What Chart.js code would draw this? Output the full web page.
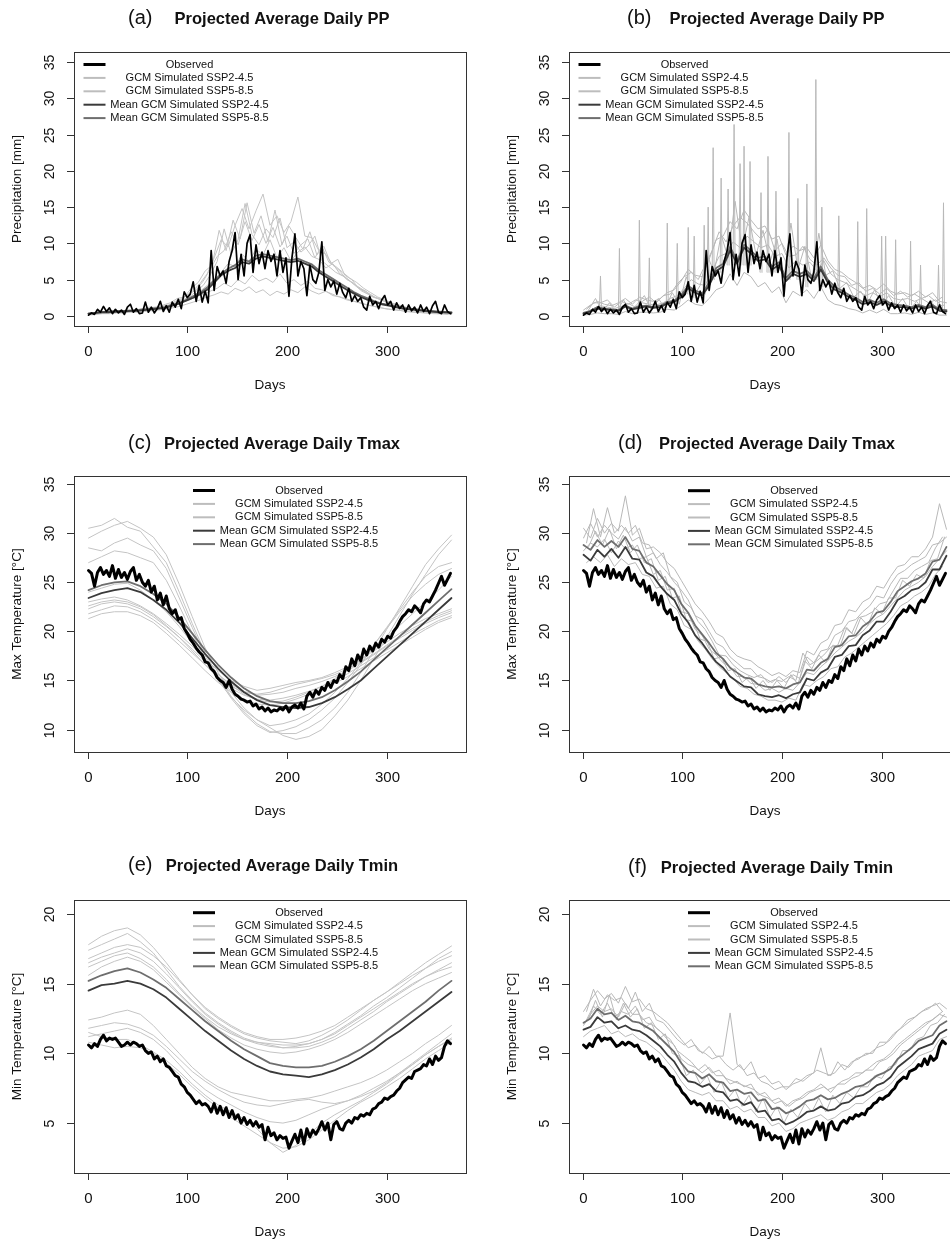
<!DOCTYPE html>
<html><head><meta charset="utf-8">
<script src="https://cdn.jsdelivr.net/npm/chart.js@4.4.1/dist/chart.umd.min.js"></script>
<style>
html,body{margin:0;padding:0;background:#fff;overflow:hidden;width:950px;height:1241px;}
#wrap{position:relative;width:950px;height:1241px;overflow:hidden;background:#fff;}
canvas{position:absolute;}
</style></head><body><div id="wrap">
<canvas id="pa" width="475" height="410" style="left:0;top:0;width:475px;height:410px"></canvas>
<canvas id="pb" width="475" height="410" style="left:495px;top:0;width:475px;height:410px"></canvas>
<canvas id="pc" width="475" height="420" style="left:0;top:410px;width:475px;height:420px"></canvas>
<canvas id="pd" width="475" height="420" style="left:495px;top:410px;width:475px;height:420px"></canvas>
<canvas id="pe" width="475" height="411" style="left:0;top:830px;width:475px;height:411px"></canvas>
<canvas id="pf" width="475" height="411" style="left:495px;top:830px;width:475px;height:411px"></canvas>
</div>
<script>
// ---------- tick labels / categories ----------
const xTicks = [0, 100, 200, 300];
const ppTicks = [0, 5, 10, 15, 20, 25, 30, 35];
const tmaxTicks = [10, 15, 20, 25, 30, 35];
const tminTicks = [5, 10, 15, 20];
const legendLabels = ['Observed', 'GCM Simulated SSP2-4.5', 'GCM Simulated SSP5-8.5', 'Mean GCM Simulated SSP2-4.5', 'Mean GCM Simulated SSP5-8.5'];
// day grids: [first day, step]
const OBS_GRID = [1, 3];   // observed series, days 1,4,...,364
const S13 = [1, 13];       // smooth GCM series, days 1,14,...,365
const GA = [1, 7];         // days 1,8,...,365
const GB = [4, 7];         // days 4,11,...,361
const GC = [6, 7];         // days 6,13,...,363

// ---------- observed ----------
const obsPP = [0.1,0.4,0.2,0.9,0.5,1.3,0.6,1.1,0.3,0.9, 0.4,0.8,0.2,1.2,1.6,0.5,1.0,0.3,0.4,1.9,
 0.5,1.2,0.4,1.0,2.0,0.6,1.4,0.5,1.9,1.2, 2.3,1.0,3.3,2.5,3.0,4.7,2.0,4.2,1.9,3.4,
 1.8,9.0,3.5,6.8,5.5,6.2,4.5,7.5,9.0,11.5, 5.0,8.5,5.5,10.0,11.2,6.0,9.8,7.2,8.8,6.5,
 9.0,7.5,8.5,5.5,9.0,6.0,8.0,2.7,8.0,11.3, 5.5,7.5,6.5,2.8,7.0,5.0,4.5,6.0,10.2,3.5,
 5.0,4.0,4.8,3.0,4.5,3.2,2.5,3.8,2.0,2.8, 2.0,2.5,1.2,0.8,2.7,1.5,2.0,1.0,2.2,2.8,
 1.5,2.0,0.8,1.8,1.0,1.5,0.5,1.5,0.7,1.2, 0.4,1.5,0.6,1.2,0.3,1.4,2.0,0.5,0.3,1.5, 0.6,0.3];
const obsTmax = [26.2,25.9,24.6,26.0,26.5,25.8,26.2,25.6,26.7,25.4, 26.3,25.5,26.0,25.3,26.1,26.5,25.2,25.8,25.0,24.6,
 25.2,24.0,24.6,23.2,23.9,22.7,23.6,22.3,21.8,22.2, 21.2,21.4,20.3,19.8,19.2,18.8,18.3,17.9,17.6,16.9,
 16.8,16.2,15.9,15.3,15.0,14.8,14.3,15.0,14.1,13.6, 13.4,13.1,13.0,12.8,12.9,12.4,12.6,12.1,12.3,11.9,
 12.2,11.8,12.0,11.9,12.2,12.0,12.4,11.8,12.3,12.5, 12.2,12.7,12.1,13.4,13.8,13.3,14.0,13.6,14.3,14.0,
 14.8,14.3,15.0,14.8,15.6,15.2,16.4,16.0,17.2,16.5, 17.6,17.0,18.2,17.6,18.5,18.0,18.8,18.4,19.2,18.9,
 19.5,19.3,20.0,20.4,21.0,21.5,21.8,22.2,22.0,22.6, 22.3,21.9,22.8,23.2,23.0,23.6,24.2,24.9,25.6,24.7, 25.3,25.9];
const obsTmin = [10.6,10.4,10.7,10.5,11.0,11.3,10.9,11.1,11.0,11.1, 10.8,10.5,10.6,10.8,10.6,10.8,10.7,10.5,10.6,10.2,
 10.0,10.1,9.6,9.8,9.4,9.6,9.1,9.0,8.7,8.4, 8.3,7.8,7.6,7.2,7.0,6.7,6.4,6.6,6.3,6.4,
 6.2,5.8,6.4,5.7,6.2,5.6,6.1,5.4,5.9,5.3, 5.6,5.0,5.4,4.9,5.2,4.8,5.1,4.7,4.9,3.8,
 4.7,4.1,4.3,3.8,4.1,3.9,4.0,3.2,3.7,4.2, 3.6,4.5,3.5,4.6,4.0,4.5,4.2,4.6,5.1,4.5,
 5.0,3.8,4.9,5.1,4.6,4.5,5.0,5.2,5.0,5.4, 5.3,5.6,5.5,5.7,5.6,6.0,6.1,6.4,6.5,6.8,
 6.7,6.9,7.0,7.3,7.5,7.9,8.1,8.3,8.2,8.7, 8.8,8.9,9.2,9.1,9.6,9.2,9.8,9.5,9.7,10.5, 10.9,10.7];

// ---------- (a) raw GCM precipitation ----------
const ppA_mean245 = [0.3,0.4,0.5,0.5,0.6,0.6,0.7,0.7,0.8,0.9, 1.0,1.1,1.4,1.7,2.1,2.5,3.0,3.6,4.6,5.6,
 6.2,6.6,7.4,7.2,7.9,8.2,8.0,7.8,7.6,7.4, 7.6,7.2,6.8,6.0,5.4,4.8,4.2,3.6,3.1,2.6, 2.2,1.9,1.6,1.4,1.2,1.0,0.9,0.8,0.7,0.6, 0.5,0.5,0.4];
const ppA_mean585 = [0.3,0.4,0.5,0.6,0.6,0.7,0.7,0.8,0.9,1.0, 1.1,1.2,1.5,1.8,2.2,2.7,3.2,3.9,4.9,5.8,
 6.5,7.0,7.8,7.5,8.3,8.5,8.3,8.1,7.9,7.7, 7.9,7.5,7.1,6.3,5.7,5.1,4.5,3.9,3.3,2.8, 2.4,2.0,1.7,1.5,1.3,1.1,1.0,0.9,0.8,0.7, 0.6,0.5,0.5];
const ppA_gcm1 = [0.3,0.5,0.6,0.5,0.7,0.6,0.8,0.7,0.9,1.0, 1.1,1.2,1.6,2.0,2.8,3.5,4.5,5.8,8.0,10.5,
 9.5,12.5,14.8,12.0,14.5,16.8,12.5,13.8,11.5,13.0, 16.4,11.0,10.8,9.0,8.5,7.0,6.2,5.0,4.5,3.5, 3.0,2.5,2.2,1.8,1.5,1.2,1.0,0.9,0.7,0.6, 0.5,0.4,0.3];
const ppA_gcm2 = [0.4,0.5,0.6,0.7,0.6,0.8,0.7,0.9,1.0,1.1, 1.2,1.4,1.8,2.2,2.6,3.4,4.2,5.6,7.5,12.0,
 8.5,10.5,15.5,11.2,9.8,12.0,10.8,13.5,9.4,10.2, 8.8,9.6,11.0,7.6,6.8,6.0,5.5,4.8,4.0,3.4, 2.8,2.4,2.0,1.6,1.4,1.1,0.9,0.8,0.6,0.5, 0.5,0.4];
const ppA_gcm3 = [0.2,0.4,0.5,0.4,0.6,0.5,0.7,0.6,0.8,0.9, 1.0,1.1,1.4,1.8,2.2,2.8,3.4,4.2,5.0,6.0,
 7.2,6.8,8.5,7.5,9.2,8.4,10.5,8.0,9.4,7.6, 8.8,9.5,8.2,7.8,6.6,7.2,5.8,5.2,4.4,3.8, 3.2,2.6,2.2,1.8,1.5,1.2,1.0,0.8,0.7,0.6, 0.5,0.4,0.3];
const ppA_gcm4 = [0.2,0.3,0.4,0.4,0.5,0.5,0.6,0.7,0.8,0.9, 1.0,1.2,1.5,1.9,2.2,2.6,3.0,3.4,3.8,4.5,
 4.0,5.0,4.4,5.6,4.8,5.2,4.6,5.8,4.5,5.0, 4.2,4.8,3.8,3.6,3.2,2.8,2.5,2.2,1.9,1.6, 1.4,1.2,1.0,0.9,0.8,0.6,0.5,0.5,0.4,0.3, 0.3,0.2];
const ppA_gcm5 = [0.1,0.2,0.3,0.3,0.4,0.4,0.5,0.5,0.6,0.7, 0.8,0.9,1.1,1.3,1.6,1.9,2.2,2.6,2.9,3.3,
 3.0,3.8,3.4,4.0,3.2,3.6,2.8,3.4,3.0,3.6, 3.2,4.0,3.4,3.0,3.4,2.8,2.6,2.2,2.0,1.8, 1.5,1.3,1.1,0.9,0.8,0.7,0.6,0.5,0.4,0.4, 0.3,0.3,0.2];
const ppA_gcm6 = [0.3,0.4,0.5,0.6,0.7,0.6,0.8,0.9,1.0,1.2, 1.3,1.5,2.0,2.4,3.0,3.6,4.8,6.4,8.2,9.0,
 11.6,9.8,13.0,10.4,12.6,10.0,12.2,9.5,11.0,8.6, 9.8,10.6,8.0,9.6,7.4,6.8,6.0,5.2,4.6,3.8, 3.2,2.6,2.2,1.8,1.5,1.2,1.0,0.8,0.7,0.6, 0.5,0.4];
const ppA_gcm7 = [0.4,0.6,0.5,0.8,0.6,0.9,0.8,1.0,1.2,1.1, 1.5,1.8,2.4,2.6,3.8,4.6,6.2,7.0,11.8,9.0,
 13.2,10.6,15.6,11.4,13.8,10.2,14.6,9.8,12.4,10.8, 9.2,11.6,8.4,9.6,7.2,7.8,5.6,5.0,3.8,3.4, 2.6,2.4,1.8,1.6,1.3,1.1,0.9,0.8,0.6,0.5, 0.5,0.4];

// ---------- (b) bias-corrected precipitation ----------
const ppB_mean245 = [0.3,0.6,1.0,0.9,0.8,0.7,1.3,0.9,1.1,1.3, 1.1,1.2,1.7,1.9,2.6,3.8,3.2,2.8,4.2,6.2,
 6.8,9.0,7.2,9.4,8.6,7.6,7.8,6.4,7.0,4.8, 5.8,5.4,5.8,4.8,6.4,4.6,3.6,3.2,2.6,2.2, 1.6,1.9,1.5,2.0,1.4,1.2,1.2,1.0,1.3,1.0, 1.3,0.7,0.6];
const ppB_mean585 = [0.4,0.7,1.2,1.0,0.9,0.8,1.4,1.0,1.3,1.4, 1.2,1.4,1.9,2.1,2.9,4.1,3.5,3.1,4.6,6.6,
 7.2,9.5,7.6,9.8,9.0,8.0,8.2,6.8,7.4,5.2, 6.2,5.8,6.2,5.2,6.8,5.0,4.0,3.5,2.9,2.5, 1.9,2.2,1.8,2.3,1.7,1.5,1.4,1.2,1.5,1.2, 1.5,0.9,0.8];
const ppB_gcm1 = [0.8,1.5,2.0,1.6,1.4,1.8,2.4,1.6,2.6,2.2, 2.0,2.4,3.2,3.6,4.8,6.4,5.6,5.4,7.8,10.5,
 11.0,13.0,12.0,14.6,13.2,12.0,12.4,10.6,11.0,8.4, 9.6,9.0,9.4,8.0,9.8,7.6,6.4,6.0,5.2,4.6, 3.8,4.2,3.6,4.4,3.4,3.0,3.2,2.8,3.4,2.6, 3.2,2.0,1.8];
const ppB_gcm2 = [0.5,1.0,1.4,1.2,1.0,1.3,1.7,1.2,1.8,1.6, 1.5,1.8,2.4,2.8,3.8,5.0,4.4,4.2,6.2,8.2,
 8.6,10.2,9.4,11.0,10.2,9.4,9.8,8.2,8.6,6.6, 7.6,7.0,7.4,6.2,7.6,5.8,5.0,4.6,4.0,3.4, 2.8,3.2,2.6,3.2,2.4,2.2,2.4,2.0,2.4,1.8, 2.2,1.3];
const ppB_gcm3 = [0.1,0.2,0.4,0.3,0.3,0.2,0.6,0.3,0.5,0.5, 0.4,0.5,0.9,0.8,1.4,2.2,1.6,1.4,2.4,3.6,
 4.0,5.8,4.2,6.0,5.4,4.0,4.6,3.2,4.0,1.8, 3.4,2.8,3.6,2.4,4.0,2.2,1.6,1.4,1.0,0.8, 0.4,0.8,0.4,0.9,0.3,0.3,0.4,0.2,0.5,0.2, 0.4,0.1,0.1];
const ppB_gcm4 = [0.9,1.8,1.8,2.2,1.2,2.0,1.6,2.2,2.0,2.6, 1.8,2.8,3.0,4.4,5.4,6.0,5.0,7.0,9.0,11.6,
 10.2,12.4,13.6,12.8,11.6,10.6,12.0,9.0,10.0,8.2, 8.4,9.6,7.8,7.0,8.0,6.6,5.6,5.4,4.2,4.6, 3.4,3.8,3.0,3.8,2.8,3.4,2.6,3.0,2.4,2.8, 2.0,2.6];
const ppB_gcm5 = [0.8,2.4,0.6,1.8,0.5,2.2,0.7,1.6,2.8,0.8, 2.4,1.0,3.2,1.6,5.4,2.6,4.2,8.4,6.0,11.2,
 8.0,15.8,9.2,13.6,8.4,11.8,7.4,10.6,5.2,12.8, 6.4,9.6,5.0,11.4,5.6,6.2,3.8,4.6,2.6,3.4, 1.8,3.6,1.4,2.8,1.2,2.4,0.8,2.0,0.7,2.2, 0.6,1.6];
const ppB_spikeDays = [18,37,57,67,85,95,106,112,122,126,131,139,146,152,158,162,168,179,186,194,207,216,225,234,240,257,276,285,300,304,314,329,339,357,362];
const ppB_spikePeak = [5.5,9.3,13.2,8.0,12.8,10.0,12.2,11.0,12.5,15.0,23.2,19.0,17.5,26.4,21.0,23.4,21.3,17.0,22.0,17.2,25.3,16.2,18.2,32.6,15.0,13.8,13.0,14.8,11.0,11.0,10.5,10.3,7.0,7.0,15.6];
const ppB_spikeBase = [1.2,0.8,1.0,1.0,1.5,2.0,3.0,2.5,3.0,4.0,5.0,6.0,7.0,7.0,7.0,7.0,7.0,6.0,6.0,6.0,5.0,5.0,4.0,5.0,4.0,3.0,2.0,2.0,2.0,2.0,1.5,1.5,1.2,1.0,1.0];

// ---------- (c) raw GCM Tmax (days 1,14,...,365) ----------
const tmaxC_mean245 = [23.4,23.9,24.2,24.4,24.0,23.2,22.2,20.9,19.3,17.7,16.2,14.9,13.8,13.0,12.5,12.3,12.2,12.3,12.7,13.3,14.1,15.0,16.2,17.4,18.6,19.8,21.0,22.2,23.4];
const tmaxC_mean585 = [24.2,24.7,25.0,25.1,24.6,23.8,22.8,21.4,19.8,18.1,16.6,15.3,14.2,13.4,12.9,12.7,12.7,12.9,13.3,14.0,14.9,15.9,17.1,18.3,19.5,20.7,21.9,23.1,24.3];
const tmaxC_gcm1 = [30.5,30.8,31.5,30.6,30.2,28.6,27.0,24.0,20.8,17.8,15.4,13.4,11.8,10.6,9.8,9.6,9.6,10.2,11.0,12.2,13.8,15.8,18.0,20.2,22.4,24.6,26.8,28.4,29.8];
const tmaxC_gcm2 = [29.5,30.2,30.8,31.2,30.5,29.6,27.8,24.8,21.5,18.3,15.8,13.8,12.2,11.0,10.2,9.4,9.0,9.3,10.0,11.4,13.0,15.0,17.2,19.4,21.6,23.8,25.8,27.8,29.3];
const tmaxC_gcm3 = [28.5,28.2,29.0,29.5,28.8,28.2,26.4,23.4,20.4,17.5,15.2,13.2,11.6,10.4,9.7,9.9,10.3,11.0,12.0,13.2,14.8,16.6,18.6,20.4,22.2,24.0,25.6,26.6,27.0];
const tmaxC_gcm4 = [27.0,27.6,28.2,28.0,27.5,27.0,25.2,22.6,19.8,17.2,15.0,13.3,12.0,11.0,10.4,10.6,11.0,11.6,12.6,13.8,15.2,16.8,18.6,20.3,22.0,23.6,24.8,25.8,26.4];
const tmaxC_gcm5 = [23.0,23.3,23.5,23.2,22.6,21.8,20.8,19.7,18.5,17.2,16.0,15.0,14.4,14.0,14.2,14.5,14.8,15.0,15.3,15.8,16.4,17.2,18.0,18.9,19.8,20.6,21.3,21.8,22.3];
const tmaxC_gcm6 = [22.3,22.8,23.0,22.8,22.3,21.5,20.5,19.4,18.2,16.9,15.6,14.6,13.9,13.5,13.6,13.8,14.2,14.5,14.9,15.4,16.0,16.8,17.6,18.5,19.3,20.1,20.8,21.4,21.9];
const tmaxC_gcm7 = [21.8,22.2,22.6,22.5,22.0,21.2,20.2,19.0,17.8,16.6,15.3,14.2,13.5,13.1,13.0,13.2,13.5,13.9,14.4,15.0,15.7,16.5,17.3,18.1,18.9,19.7,20.4,21.1,21.6];
const tmaxC_gcm8 = [21.3,21.8,22.0,22.0,21.6,20.9,19.8,18.6,17.3,16.0,14.8,13.8,13.1,12.6,12.5,12.7,13.1,13.6,14.1,14.7,15.4,16.2,17.0,17.8,18.6,19.4,20.2,20.9,21.4];
const tmaxC_gcm9 = [22.6,23.0,23.2,23.0,22.5,21.7,20.6,19.4,18.0,16.6,15.4,14.4,13.8,13.6,13.8,14.2,14.6,14.9,15.2,15.6,16.2,16.9,17.7,18.6,19.5,20.3,21.0,21.6,22.1];
const tmaxC_gcm10 = [24.0,24.4,24.8,24.9,24.2,23.2,22.0,20.5,18.8,17.0,15.6,14.5,13.6,13.0,12.8,12.9,13.3,13.8,14.4,15.2,16.1,17.1,18.2,19.4,20.6,21.8,23.0,24.2,25.6];

// ---------- (d) bias-corrected Tmax ----------
const tmaxD_mean245 = [27.8,27.2,28.3,27.6,28.4,27.5,28.6,27.4,27.3,26.0, 25.6,24.6,23.8,23.2,21.8,20.9,19.6,18.8,17.8,16.9,
 16.3,15.4,14.9,14.4,14.3,13.6,13.4,13.3,13.5,13.2, 13.6,13.8,15.2,15.0,15.8,16.2,17.4,17.6,18.5,18.6, 19.6,20.1,21.0,21.0,22.0,23.2,23.6,24.2,24.4,25.0, 26.3,26.3,27.7];
const tmaxD_mean585 = [28.8,28.3,29.3,28.6,29.2,28.6,29.6,28.4,28.2,27.0, 26.6,25.7,24.8,24.2,22.8,21.9,20.6,19.7,18.8,17.8,
 17.2,16.3,15.8,15.3,15.2,14.6,14.4,14.3,14.4,14.2, 14.6,14.8,16.1,16.0,16.8,17.2,18.4,18.6,19.5,19.6, 20.5,21.0,21.9,22.1,23.0,24.1,24.6,25.1,25.4,25.9, 27.1,27.3,28.6];
const tmaxD_gcm1 = [30.5,29.5,31.5,30.0,31.0,30.2,33.8,29.8,30.5,28.4, 28.6,28.0,27.0,26.4,25.2,24.0,22.8,22.0,21.0,19.8,
 19.4,18.2,17.5,17.2,17.0,16.4,16.0,15.5,15.8,15.4, 16.0,15.8,18.0,17.6,18.8,19.2,20.6,20.8,22.2,22.0, 23.0,23.4,24.6,24.4,25.6,26.6,26.8,27.6,27.6,28.4, 29.6,33.0,30.4];
const tmaxD_gcm2 = [29.0,32.5,29.6,32.6,30.0,30.8,30.0,30.8,29.0,28.8, 27.4,28.0,25.6,25.0,23.0,22.4,21.0,20.2,19.0,17.6,
 17.5,16.6,16.0,15.6,15.3,15.6,14.8,15.1,14.9,15.4, 15.0,17.8,16.6,17.0,17.6,18.4,18.6,20.4,19.8,21.4, 21.6,22.0,22.8,23.0,24.2,25.4,25.4,26.2,26.6,27.0, 28.5,29.6];
const tmaxD_gcm3 = [28.2,29.0,28.6,29.4,28.0,29.2,28.4,28.8,27.4,27.6, 25.8,26.2,24.2,24.4,22.0,21.8,20.2,19.6,18.2,17.6,
 16.8,16.4,15.4,15.4,14.7,14.6,14.0,14.2,13.8,14.2, 14.0,14.8,15.8,15.6,16.4,17.0,17.8,18.4,19.0,19.4, 20.0,20.8,21.4,21.8,22.6,23.4,24.2,24.6,25.0,25.6, 26.6,27.4,28.2];
const tmaxD_gcm4 = [27.0,27.6,27.0,27.8,26.6,27.4,26.8,27.0,25.8,25.6, 24.4,24.6,22.8,22.2,20.6,20.2,19.0,18.2,17.2,16.4,
 15.8,15.2,14.4,14.2,13.6,13.4,13.0,13.0,12.8,13.2, 13.0,14.6,14.4,15.0,15.4,16.2,16.4,17.4,17.8,18.4, 19.0,19.6,20.2,20.8,21.6,22.6,23.0,23.6,24.0,24.6, 25.8,26.6];
const tmaxD_gcm5 = [29.5,31.0,29.6,30.8,30.0,29.4,30.6,29.2,29.6,27.6, 28.0,26.8,26.0,25.0,24.2,23.2,21.6,21.2,20.0,18.8,
 18.4,17.4,16.8,16.2,16.2,15.4,15.2,14.8,15.4,14.8, 15.6,15.2,17.4,16.8,18.0,18.2,19.6,20.0,21.0,21.2, 22.0,22.6,23.6,23.4,24.8,25.8,26.2,26.8,27.2,27.6, 28.8,29.0,29.6];
const tmaxD_gcm6 = [28.6,30.2,28.8,30.4,28.4,29.8,28.0,28.8,27.0,27.4, 25.2,25.6,23.4,23.6,21.2,21.0,19.2,19.0,17.2,17.4,
 16.0,16.2,14.8,15.4,14.2,15.0,14.0,15.0,14.2,15.6, 14.6,17.0,16.2,17.6,16.8,18.6,18.4,20.4,19.6,21.4, 20.6,22.4,21.8,23.4,23.4,25.2,24.6,25.8,25.4,27.2, 27.4,29.6];

// ---------- (e) raw GCM Tmin (days 1,14,...,365) ----------
const tminE_mean245 = [14.5,14.9,15.0,15.2,15.0,14.6,14.0,13.2,12.4,11.6,10.9,10.2,9.6,9.1,8.7,8.5,8.4,8.3,8.5,8.8,9.2,9.7,10.3,11.0,11.6,12.3,13.0,13.7,14.4];
const tminE_mean585 = [15.2,15.6,15.9,16.1,15.8,15.3,14.7,13.9,13.1,12.3,11.6,10.9,10.3,9.8,9.3,9.1,9.0,9.0,9.1,9.4,9.8,10.3,10.9,11.6,12.3,13.0,13.7,14.5,15.2];
const tminE_gcm1 = [17.8,18.4,18.8,19.0,18.5,17.6,16.5,15.3,14.2,13.2,12.5,11.9,11.4,11.1,10.9,10.8,10.7,10.9,11.3,11.8,12.4,13.1,13.8,14.4,15.1,15.8,16.5,17.1,17.7];
const tminE_gcm2 = [17.4,17.8,18.2,18.6,18.0,17.2,16.0,14.8,13.8,12.9,12.2,11.6,11.1,10.8,10.6,10.4,10.5,10.7,11.0,11.5,12.1,12.7,13.4,14.0,14.7,15.4,16.1,16.8,17.3];
const tminE_gcm3 = [16.5,16.9,17.2,17.5,17.2,16.6,15.7,14.7,13.7,12.8,12.1,11.5,11.0,10.7,10.5,10.4,10.4,10.5,10.8,11.2,11.8,12.4,13.0,13.7,14.3,14.9,15.5,16.0,16.5];
const tminE_gcm4 = [16.2,16.6,17.0,17.2,16.8,16.2,15.3,14.3,13.4,12.6,11.9,11.4,11.0,10.8,10.7,10.6,10.6,10.7,11.0,11.4,12.0,12.6,13.2,13.8,14.4,15.0,15.5,15.9,16.2];
const tminE_gcm5 = [15.6,16.2,16.6,16.9,16.6,16.0,15.1,14.2,13.3,12.5,11.7,11.1,10.6,10.3,10.1,10.0,10.1,10.3,10.6,11.0,11.5,12.1,12.7,13.3,13.9,14.5,15.0,15.4,15.8];
const tminE_gcm6 = [16.8,17.2,17.6,17.8,17.6,17.0,16.2,15.2,14.2,13.3,12.6,12.0,11.5,11.2,11.0,11.0,11.1,11.3,11.6,12.0,12.6,13.2,13.8,14.4,15.0,15.6,16.1,16.6,17.0];
const tminE_gcm7 = [12.4,12.6,12.9,13.1,12.8,12.0,11.0,10.0,9.0,8.2,7.6,7.2,7.0,6.8,6.6,6.6,6.7,6.8,7.0,7.3,7.6,7.9,8.3,8.8,9.4,10.0,10.7,11.3,12.0];
const tminE_gcm8 = [11.8,12.0,12.2,12.1,11.8,11.3,10.5,9.6,8.7,8.0,7.4,6.9,6.5,6.3,6.2,6.4,6.6,6.7,6.5,6.4,6.6,6.9,7.3,7.9,8.6,9.3,10.0,10.7,11.4];
const tminE_gcm9 = [11.2,11.4,11.6,11.8,11.5,11.0,10.2,9.2,8.2,7.4,6.8,6.3,5.8,5.4,5.1,5.0,5.2,5.6,6.0,6.3,6.6,7.0,7.5,8.0,8.6,9.2,9.9,10.5,11.1];
const tminE_gcm10 = [10.8,10.6,10.4,10.5,10.4,10.0,9.3,8.5,7.6,6.8,6.1,5.4,4.8,4.2,3.6,3.2,3.3,3.8,4.5,5.2,5.9,6.5,7.0,7.6,8.2,8.9,9.6,10.2,10.8];
const tminE_gcm11 = [11.5,11.2,11.0,11.0,10.6,10.1,9.5,8.7,7.8,7.0,6.3,5.8,5.3,4.6,3.6,2.9,3.4,4.2,5.0,5.6,6.1,6.6,7.2,7.8,8.5,9.2,9.9,10.5,11.0];

// ---------- (f) bias-corrected Tmin ----------
const tminF_mean245 = [11.7,11.9,12.6,12.2,12.3,11.8,12.0,11.7,11.6,11.3, 10.9,10.5,9.9,9.4,8.6,8.0,7.9,7.6,7.8,7.3,
 7.2,6.6,6.7,6.3,6.5,5.8,5.9,5.2,5.3,4.9, 5.1,5.4,5.8,5.9,6.2,5.9,6.0,6.4,6.5,6.9, 7.0,7.3,7.7,7.9,8.3,9.0,9.4,9.8,10.3,10.5, 10.7,11.4,11.7];
const tminF_mean585 = [12.2,12.5,13.2,12.8,12.9,12.4,12.7,12.3,12.2,11.9, 11.6,11.1,10.6,10.1,9.3,8.7,8.6,8.2,8.5,8.0,
 7.9,7.3,7.4,7.1,7.2,6.6,6.7,6.0,6.1,5.7, 5.9,6.2,6.6,6.7,7.0,6.7,6.8,7.1,7.3,7.6, 7.7,8.0,8.4,8.6,8.9,9.6,10.0,10.4,10.9,11.1, 11.3,12.0,12.3];
const tminF_gcm1 = [13.0,13.8,14.5,13.9,14.3,13.6,14.8,13.7,13.9,13.2, 13.0,12.6,12.2,11.6,11.0,10.4,10.6,10.0,10.5,9.8,
 9.8,12.9,9.2,8.8,9.4,8.2,8.4,7.8,8.0,7.4, 7.8,8.0,8.4,8.6,10.4,8.4,8.6,9.2,9.0,9.6, 9.8,10.0,10.4,10.6,11.0,11.6,12.0,12.4,12.8,13.2, 13.4,13.6,13.2];
const tminF_gcm2 = [12.4,13.4,12.8,13.6,12.6,13.0,12.8,13.4,12.4,12.6, 11.8,11.4,11.0,10.2,9.8,9.4,8.8,9.2,8.6,8.8,
 8.2,8.0,7.8,7.6,7.4,7.0,6.8,6.4,6.6,6.2, 6.6,6.8,7.2,7.4,7.6,7.2,7.8,7.8,8.2,8.4, 8.8,8.8,9.4,9.6,10.0,10.6,11.0,11.4,11.8,12.2, 12.6,13.0];
const tminF_gcm3 = [11.2,11.6,11.8,12.0,11.4,11.6,11.2,11.4,11.0,10.8, 10.4,10.0,9.4,8.8,8.0,7.4,7.2,7.0,7.2,6.6,
 6.6,6.0,6.2,5.8,6.0,5.4,5.4,4.8,5.0,4.4, 4.6,5.0,5.2,5.4,5.6,5.2,5.4,5.8,6.0,6.4, 6.4,6.8,7.2,7.4,7.8,8.4,8.8,9.2,9.8,10.0, 10.2,11.0,11.2];
const tminF_gcm4 = [13.0,14.6,13.4,14.2,13.8,14.0,13.2,14.4,13.0,13.6, 12.4,12.2,11.6,11.0,10.6,11.0,10.2,10.0,9.6,9.8,
 9.2,8.8,9.2,8.4,8.6,8.0,7.8,7.4,7.6,7.6, 8.2,8.0,8.4,8.8,8.6,8.4,9.4,8.8,9.4,9.6, 10.0,10.0,10.8,10.8,11.4,11.8,12.4,12.6,13.0,13.2, 13.6,13.0];
const tminF_gcm5 = [12.0,12.8,13.4,13.0,13.2,12.6,13.6,12.8,12.8,12.2, 12.0,11.6,11.0,10.6,9.6,9.2,9.0,8.6,9.0,8.4,
 8.4,7.8,8.0,7.6,7.8,7.0,7.2,6.6,6.8,6.2, 6.6,6.8,7.2,7.4,7.8,7.4,7.6,8.0,8.2,8.6, 8.6,9.0,9.4,9.6,10.0,10.6,11.0,11.4,11.8,12.2, 12.4,12.8,12.6];
const tminF_gcm6 = [12.4,13.8,12.6,14.2,12.4,13.6,12.6,13.2,11.8,12.2, 11.0,11.4,10.0,9.8,8.4,8.8,7.8,8.4,7.2,8.0,
 6.8,7.4,6.2,7.0,5.8,6.8,5.4,6.2,5.0,6.0, 5.4,6.4,5.8,6.8,5.8,7.0,6.4,7.2,6.8,7.6, 7.6,8.4,8.2,9.0,9.2,10.2,10.2,11.0,11.2,12.0, 12.2,12.8];

// ---------- helpers ----------
function pts(grid, vals) { return vals.map((v, i) => ({ x: grid[0] + grid[1] * i, y: v })); }
function spikePts(days, peaks, bases) {
  const out = [];
  days.forEach((d, i) => { out.push({ x: d - 1, y: bases[i] }, { x: d, y: peaks[i] }, { x: d + 1, y: bases[i] }, { x: d + 1, y: null }); });
  return out;
}
const C_OBS = '#000000', C_GCM = '#c4c4c4', C_GCMB = '#b8b8b8', C_M245 = '#3a3a3a', C_M585 = '#6e6e6e';
function line(data, color, w) {
  return { data: data, borderColor: color, borderWidth: w, pointRadius: 0, tension: 0, fill: false, borderJoinStyle: 'round', borderCapStyle: 'round' };
}
function buildSets(obs, obsW, means, meanGrid, gcms, gcmColor, extra) {
  const sets = [line(pts(OBS_GRID, obs), C_OBS, obsW),
    line(pts(meanGrid, means[0]), C_M245, 1.8),
    line(pts(meanGrid, means[1]), C_M585, 1.8)];
  gcms.forEach(g => sets.push(line(pts(g[0], g[1]), gcmColor, 1)));
  if (extra) sets.push(line(extra, gcmColor, 1));
  return sets;
}

const FONT = '"Liberation Sans", Arial, Helvetica, sans-serif';
const legendStyle = [[C_OBS, 3], ['#bdbdbd', 2], ['#bdbdbd', 2], [C_M245, 2], [C_M585, 2]];

const PANELS = [
  { id: 'pa', H: 410, tag: '(a)', tagDx: 54, title: 'Projected Average Daily PP', yTitle: 'Precipitation [mm]',
    yMin: -1.4, yMax: 36.4, yTicks: ppTicks, t: 52, b: 326, titleY: 24, legX: 9.5, legY: 64.5,
    sets: buildSets(obsPP, 1.7, [ppA_mean245, ppA_mean585], GA,
      [[GA, ppA_gcm1], [GB, ppA_gcm2], [GA, ppA_gcm3], [GB, ppA_gcm4], [GA, ppA_gcm5], [GB, ppA_gcm6], [GC, ppA_gcm7]], C_GCM) },
  { id: 'pb', H: 410, tag: '(b)', tagDx: 58, title: 'Projected Average Daily PP', yTitle: 'Precipitation [mm]',
    yMin: -1.4, yMax: 36.4, yTicks: ppTicks, t: 52, b: 326, titleY: 24, legX: 9.5, legY: 64.5,
    sets: buildSets(obsPP, 1.7, [ppB_mean245, ppB_mean585], GA,
      [[GA, ppB_gcm1], [GB, ppB_gcm2], [GA, ppB_gcm3], [GB, ppB_gcm4], [GC, ppB_gcm5]], C_GCMB,
      spikePts(ppB_spikeDays, ppB_spikePeak, ppB_spikeBase)) },
  { id: 'pc', H: 420, tag: '(c)', tagDx: 54, title: 'Projected Average Daily Tmax', yTitle: 'Max Temperature [°C]',
    yMin: 7.72, yMax: 35.82, yTicks: tmaxTicks, t: 66, b: 342, titleY: 38.5, legX: 119, legY: 80.5,
    sets: buildSets(obsTmax, 3, [tmaxC_mean245, tmaxC_mean585], S13,
      [tmaxC_gcm1, tmaxC_gcm2, tmaxC_gcm3, tmaxC_gcm4, tmaxC_gcm5, tmaxC_gcm6, tmaxC_gcm7, tmaxC_gcm8, tmaxC_gcm9, tmaxC_gcm10].map(v => [S13, v]), C_GCM) },
  { id: 'pd', H: 420, tag: '(d)', tagDx: 49, title: 'Projected Average Daily Tmax', yTitle: 'Max Temperature [°C]',
    yMin: 7.72, yMax: 35.82, yTicks: tmaxTicks, t: 66, b: 342, titleY: 38.5, legX: 119, legY: 80.7,
    sets: buildSets(obsTmax, 3, [tmaxD_mean245, tmaxD_mean585], GA,
      [[GA, tmaxD_gcm1], [GB, tmaxD_gcm2], [GA, tmaxD_gcm3], [GB, tmaxD_gcm4], [GA, tmaxD_gcm5], [GC, tmaxD_gcm6]], C_GCMB) },
  { id: 'pe', H: 411, tag: '(e)', tagDx: 54, title: 'Projected Average Daily Tmin', yTitle: 'Min Temperature [°C]',
    yMin: 1.42, yMax: 21.0, yTicks: tminTicks, t: 70, b: 343, titleY: 41, legX: 119, legY: 82.7,
    sets: buildSets(obsTmin, 3, [tminE_mean245, tminE_mean585], S13,
      [tminE_gcm1, tminE_gcm2, tminE_gcm3, tminE_gcm4, tminE_gcm5, tminE_gcm6, tminE_gcm7, tminE_gcm8, tminE_gcm9, tminE_gcm10, tminE_gcm11].map(v => [S13, v]), C_GCM) },
  { id: 'pf', H: 411, tag: '(f)', tagDx: 59, title: 'Projected Average Daily Tmin', yTitle: 'Min Temperature [°C]',
    yMin: 1.42, yMax: 21.0, yTicks: tminTicks, t: 70, b: 343, titleY: 42.5, legX: 119, legY: 82.7,
    sets: buildSets(obsTmin, 3, [tminF_mean245, tminF_mean585], GA,
      [[GA, tminF_gcm1], [GB, tminF_gcm2], [GA, tminF_gcm3], [GB, tminF_gcm4], [GA, tminF_gcm5], [GC, tminF_gcm6]], C_GCMB) }
];

const frame = {
  id: 'rframe',
  afterDraw(chart, args, o) {
    const p = o.panel, ctx = chart.ctx, ca = chart.chartArea;
    const xs = chart.scales.x, ys = chart.scales.y;
    ctx.save();
    ctx.strokeStyle = '#333'; ctx.lineWidth = 1;
    ctx.strokeRect(Math.round(ca.left) + 0.5, Math.round(ca.top) + 0.5, Math.round(ca.right - ca.left), Math.round(ca.bottom - ca.top));
    ctx.fillStyle = '#111';
    ctx.font = '14px ' + FONT;
    p.yTicks.forEach(v => {
      const y = Math.round(ys.getPixelForValue(v)) + 0.5;
      ctx.beginPath(); ctx.moveTo(ca.left - 7, y); ctx.lineTo(ca.left, y); ctx.stroke();
      ctx.save(); ctx.translate(ca.left - 24, y); ctx.rotate(-Math.PI / 2);
      ctx.textAlign = 'center'; ctx.textBaseline = 'middle'; ctx.fillText(String(v), 0, 0); ctx.restore();
    });
    ctx.font = '15px ' + FONT;
    xTicks.forEach(v => {
      const x = Math.round(xs.getPixelForValue(v)) + 0.5;
      ctx.beginPath(); ctx.moveTo(x, ca.bottom); ctx.lineTo(x, ca.bottom + 7); ctx.stroke();
      ctx.textAlign = 'center'; ctx.textBaseline = 'middle'; ctx.fillText(String(v), x, ca.bottom + 26);
    });
    ctx.font = '13.5px ' + FONT;
    ctx.textAlign = 'center'; ctx.textBaseline = 'middle';
    ctx.fillText('Days', (ca.left + ca.right) / 2, ca.bottom + 59);
    ctx.save(); ctx.translate(ca.left - 57, (ca.top + ca.bottom) / 2); ctx.rotate(-Math.PI / 2);
    ctx.fillText(p.yTitle, 0, 0); ctx.restore();
    // title
    ctx.textBaseline = 'alphabetic';
    ctx.font = '20px ' + FONT; ctx.textAlign = 'left';
    ctx.fillText(p.tag, ca.left + p.tagDx, p.titleY);
    ctx.font = 'bold 16.5px ' + FONT; ctx.textAlign = 'center';
    ctx.fillText(p.title, ca.left + 208, p.titleY);
    // legend
    ctx.font = '11px ' + FONT; ctx.textBaseline = 'middle';
    legendLabels.forEach((lab, i) => {
      const y = p.legY + i * 13.4;
      ctx.strokeStyle = legendStyle[i][0]; ctx.lineWidth = legendStyle[i][1];
      ctx.beginPath(); ctx.moveTo(ca.left + p.legX, y); ctx.lineTo(ca.left + p.legX + 22, y); ctx.stroke();
      ctx.fillStyle = '#111'; ctx.fillText(lab, ca.left + p.legX + 106, y);
    });
    ctx.restore();
  }
};

PANELS.forEach(p => {
  new Chart(document.getElementById(p.id), {
    type: 'line',
    data: { datasets: p.sets },
    options: {
      responsive: false, animation: false, devicePixelRatio: 1, events: [],
      layout: { padding: { left: 74, right: 475 - 466, top: p.t, bottom: p.H - p.b } },
      scales: {
        x: { type: 'linear', min: -13.56, max: 379.56, display: false },
        y: { type: 'linear', min: p.yMin, max: p.yMax, display: false }
      },
      plugins: { legend: { display: false }, tooltip: { enabled: false }, rframe: { panel: p } }
    },
    plugins: [frame]
  });
});
</script></body></html>
